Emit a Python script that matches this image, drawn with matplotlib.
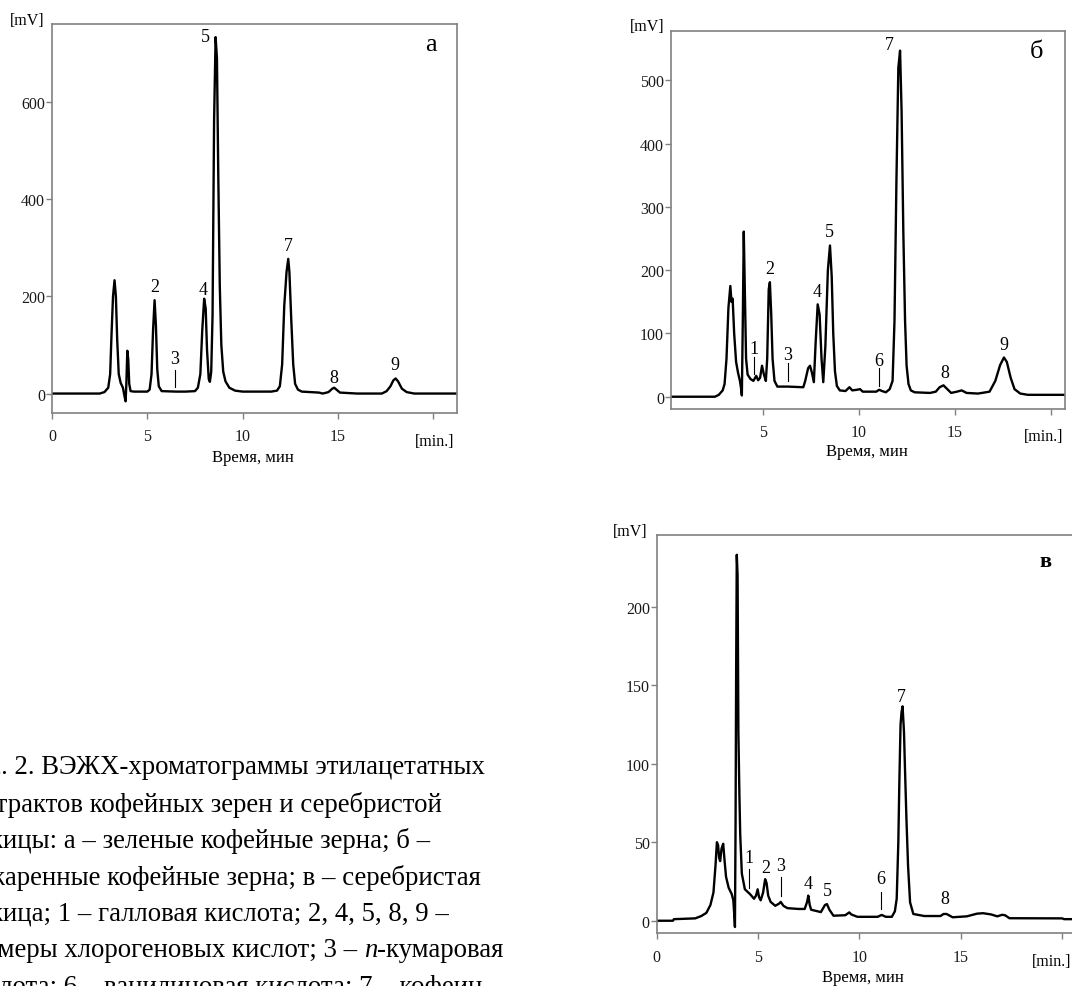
import matplotlib
matplotlib.use("Agg")
import matplotlib.pyplot as plt

plt.rcParams['font.family'] = ['Liberation Serif', 'DejaVu Serif']

W, H = 1072, 987

# ---- panel a: green coffee beans
a_time = [0.0, 2.5, 2.75, 2.95, 3.05, 3.12, 3.2, 3.28, 3.35, 3.42, 3.5, 3.6, 3.72, 3.8, 3.86,
          3.9, 3.95, 4.0, 4.05, 4.12, 4.3, 5.0, 5.12, 5.22, 5.3, 5.38, 5.45, 5.52, 5.6, 5.75,
          6.5, 7.0, 7.5, 7.65, 7.78, 7.88, 7.98, 8.06, 8.13, 8.22, 8.28, 8.35, 8.42, 8.5, 8.58,
          8.65, 8.72, 8.8, 8.88, 8.98, 9.1, 9.3, 9.6, 10.0, 11.5, 11.8, 11.95, 12.07, 12.18, 12.3,
          12.39, 12.45, 12.55, 12.65, 12.75, 12.9, 13.1, 14.0, 14.2, 14.5, 14.7, 14.8, 14.92, 15.1,
          16.0, 17.3, 17.55, 17.75, 17.9, 18.02, 18.15, 18.35, 18.6, 19.0, 21.3]
a_mv = [0, 0, 3, 12, 40, 120, 200, 233, 200, 110, 40, 22, 12, -5, -16,
        20, 88, 70, 20, 5, 4, 4, 8, 40, 130, 192, 140, 50, 15, 5,
        4, 4, 5, 12, 40, 130, 195, 175, 90, 30, 24, 45, 160, 560, 733,
        690, 450, 220, 100, 45, 25, 12, 6, 4, 4, 6, 15, 60, 180, 250,
        277, 250, 150, 60, 20, 8, 4, 2, 0, 3, 10, 12, 8, 2,
        0, 0, 5, 15, 27, 31, 25, 10, 3, 0, 0]
a_lab = ['2', '3', '4', '5', '7', '8', '9']
a_lab_t = [5.4, 6.45, 7.94, 8.02, 12.39, 14.8, 18.0]
a_lab_mv = [220, 72, 215, 735, 304, 34, 60]
a_mark_t = [6.45]
a_mark_lo = [14]
a_mark_hi = [48]

# ---- panel b: roasted coffee beans
b_time = [0.2, 2.5, 2.7, 2.9, 3.0, 3.1, 3.2, 3.3, 3.36, 3.42, 3.5, 3.6, 3.7, 3.8, 3.85, 3.9,
          3.95, 4.0, 4.06, 4.12, 4.2, 4.35, 4.5, 4.65, 4.75, 4.85, 4.95, 5.05, 5.15, 5.22, 5.3,
          5.36, 5.43, 5.5, 5.6, 5.75, 6.3, 7.1, 7.2, 7.35, 7.45, 7.55, 7.65, 7.75, 7.85, 7.95,
          8.05, 8.14, 8.25, 8.38, 8.49, 8.58, 8.66, 8.75, 8.85, 9.0, 9.3, 9.5, 9.65, 9.9, 10.05,
          10.2, 10.9, 11.05, 11.2, 11.4, 11.6, 11.75, 11.85, 11.95, 12.05, 12.14, 12.22, 12.31,
          12.4, 12.48, 12.58, 12.7, 12.9, 13.7, 14.0, 14.2, 14.4, 14.6, 14.8, 15.1, 15.35, 15.6,
          16.2, 16.8, 17.1, 17.35, 17.55, 17.7, 17.9, 18.1, 18.4, 18.8, 20.8]
b_mv = [0, 0, 3, 10, 20, 60, 140, 175, 150, 155, 100, 55, 38, 25, 15, 2,
        120, 261, 160, 60, 35, 28, 25, 33, 26, 30, 49, 35, 25, 60, 170,
        181, 130, 60, 25, 16, 16, 15, 25, 45, 49, 38, 23, 90, 146, 130,
        60, 23, 80, 200, 239, 190, 100, 40, 17, 10, 9, 15, 10, 11, 12,
        8, 8, 11, 9, 7, 12, 25, 120, 340, 520, 547, 450, 260,
        120, 49, 20, 10, 7, 6, 8, 15, 18, 12, 6, 8, 10, 6,
        5, 8, 25, 50, 62, 55, 30, 12, 5, 3, 3]
b_lab = ['1', '2', '3', '4', '5', '6', '7', '8', '9']
b_lab_t = [4.55, 5.36, 6.28, 7.83, 8.45, 11.02, 11.58, 14.48, 17.55]
b_lab_mv = [76, 202, 66, 166, 261, 57, 557, 39, 82]
b_mark_t = [4.55, 6.28, 11.02]
b_mark_lo = [36, 25, 17]
b_mark_hi = [62, 54, 45]

# ---- panel v: silverskin
v_time = [0.0, 0.8, 0.85, 1.9, 2.2, 2.45, 2.65, 2.8, 2.9, 2.97, 3.03, 3.08, 3.13, 3.2, 3.28,
          3.35, 3.42, 3.55, 3.7, 3.78, 3.83, 3.86, 3.89, 3.92, 3.95, 3.99, 4.03, 4.08, 4.12,
          4.2, 4.35, 4.6, 4.8, 4.9, 4.98, 5.05, 5.13, 5.25, 5.35, 5.42, 5.5, 5.62, 5.85, 6.05,
          6.12, 6.25, 6.45, 7.0, 7.3, 7.42, 7.48, 7.55, 7.62, 8.1, 8.3, 8.4, 8.52, 8.72, 9.3,
          9.5, 9.6, 9.9, 10.9, 11.1, 11.3, 11.6, 11.75, 11.84, 11.92, 11.97, 12.03, 12.08, 12.13,
          12.2, 12.25, 12.32, 12.4, 12.5, 12.66, 13.2, 14.0, 14.15, 14.3, 14.6, 15.3, 15.8, 16.1,
          16.5, 16.8, 17.05, 17.2, 17.4, 20.0, 20.1, 20.8]
v_mv = [0, 0, 1, 1.5, 3, 5, 10, 18, 35, 50, 48, 40, 38, 46, 49,
        38, 28, 21, 17, 13, 3, -4, 60, 160, 233, 220, 120, 80, 55,
        30, 20, 17, 14, 16, 20, 15, 13, 18, 26.5, 24, 16, 12, 9.5, 11,
        12, 9.5, 8, 7.5, 7.5, 12, 16, 10, 7, 5.5, 10, 10.6, 7, 3.2, 3.5,
        5.3, 4, 2.5, 2.5, 3.7, 2.5, 2.5, 6, 14, 50, 88, 125, 133, 136.5,
        120, 96, 65, 35, 11.7, 4.3, 3, 3, 4.3, 4.3, 2.2, 2.8, 4.5, 4.8,
        4, 2.8, 3.8, 3.4, 1.6, 1.5, 1.0, 1.0]
v_lab = ['1', '2', '3', '4', '5', '6', '7', '8']
v_lab_t = [4.57, 5.36, 6.12, 7.45, 8.42, 11.05, 12.08, 14.22]
v_lab_mv = [40, 34, 35, 24, 19, 27, 143, 14]
v_mark_t = [4.57, 6.12, 11.05]
v_mark_lo = [21, 16, 7.5]
v_mark_hi = [33, 27.6, 18.5]

caption = [
    "Рис. 2. ВЭЖХ-хроматограммы этилацетатных",
    "экстрактов кофейных зерен и серебристой",
    "кожицы: а – зеленые кофейные зерна; б –",
    "обжаренные кофейные зерна; в – серебристая",
    "кожица; 1 – галловая кислота; 2, 4, 5, 8, 9 –",
    "изомеры хлорогеновых кислот; 3 – п-кумаровая",
    "кислота; 6 – ванилиновая кислота; 7 – кофеин",
]


def box(l, t, r, b):
    # pixel box -> figure fraction rect
    return [l / W, 1 - b / H, (r - l) / W, (b - t) / H]


def fpos(x, y):
    return x / W, 1 - y / H


def draw(ax, t, mv, xlim, ylim, yt, xt, xtl, lab, lab_t, lab_mv, mk_t, mk_lo, mk_hi):
    ax.plot(t, mv, color='black', lw=1.7, solid_joinstyle='round')
    for s, x, y in zip(lab, lab_t, lab_mv):
        ax.text(x, y, s, ha='center', va='center', fontsize=13)
    for x, lo, hi in zip(mk_t, mk_lo, mk_hi):
        ax.plot([x, x], [lo, hi], color='black', lw=0.8)
    ax.set_xlim(*xlim)
    ax.set_ylim(*ylim)
    ax.set_yticks(yt)
    ax.set_yticklabels([str(v) for v in yt])
    ax.set_xticks(xt)
    ax.set_xticklabels(xtl)
    for sp in ax.spines.values():
        sp.set_color('#808080')
        sp.set_linewidth(1.2)
    ax.tick_params(axis='both', direction='out', length=4, width=1, color='#808080',
                   labelsize=11.5, labelcolor='#1a1a1a')
    ax.tick_params(axis='y', pad=1)
    ax.tick_params(axis='x', pad=7)


fig = plt.figure(figsize=(W / 100, H / 100), dpi=100)

ax_a = fig.add_axes(box(52, 25, 457, 414))
draw(ax_a, a_time, a_mv, (0, 21.24), (-40, 760), [0, 200, 400, 600],
     [0, 5, 10, 15, 20], ['0', '5', '10', '15', ''],
     a_lab, a_lab_t, a_lab_mv, a_mark_t, a_mark_lo, a_mark_hi)
ax_a.text(19.87, 719, 'а', ha='center', va='center', fontsize=19)

ax_b = fig.add_axes(box(671, 32, 1065, 410))
draw(ax_b, b_time, b_mv, (0.21, 20.73), (-19.4, 578), [0, 100, 200, 300, 400, 500],
     [5, 10, 15, 20], ['5', '10', '15', ''],
     b_lab, b_lab_t, b_lab_mv, b_mark_t, b_mark_lo, b_mark_hi)
ax_b.text(19.26, 547, 'б', ha='center', va='center', fontsize=19)

ax_v = fig.add_axes(box(656.7, 536, 1076.3, 934.3))
draw(ax_v, v_time, v_mv, (0, 20.7), (-8, 245.6), [0, 50, 100, 150, 200],
     [0, 5, 10, 15, 20], ['0', '5', '10', '15', ''],
     v_lab, v_lab_t, v_lab_mv, v_mark_t, v_mark_lo, v_mark_hi)
ax_v.text(19.16, 229, 'в', ha='center', va='center', fontsize=16, fontweight='bold')

# axis captions
for mv_xy, min_xy, lbl_xy in [((27, 21), (435, 442), (253, 458)),
                              ((647, 27), (1044, 437), (867, 452)),
                              ((630, 532), (1052, 962), (863, 978))]:
    fig.text(*fpos(*mv_xy), '[mV]', ha='center', va='center', fontsize=11.5)
    fig.text(*fpos(*min_xy), '[min.]', ha='center', va='center', fontsize=11.5)
    fig.text(*fpos(*lbl_xy), 'Время, мин', ha='center', va='center', fontsize=12)

# figure caption, clipped on the left like the source page
renderer = fig.canvas.get_renderer()
cap_x = -40
cap_fs = 19.3
for i, line in enumerate(caption):
    y = 768 + i * 36.6
    if 'п-' in line:
        head, tail = line.split('п-', 1)
        t1 = fig.text(*fpos(cap_x, y), head, ha='left', va='center', fontsize=cap_fs)
        x1 = t1.get_window_extent(renderer).x1
        t2 = fig.text(x1 / W, 1 - y / H, 'п', ha='left', va='center', fontsize=cap_fs,
                      style='italic')
        x2 = t2.get_window_extent(renderer).x1
        fig.text(x2 / W, 1 - y / H, '-' + tail, ha='left', va='center', fontsize=cap_fs)
    else:
        fig.text(*fpos(cap_x, y), line, ha='left', va='center', fontsize=cap_fs)

fig.savefig('out.png', dpi=100)
